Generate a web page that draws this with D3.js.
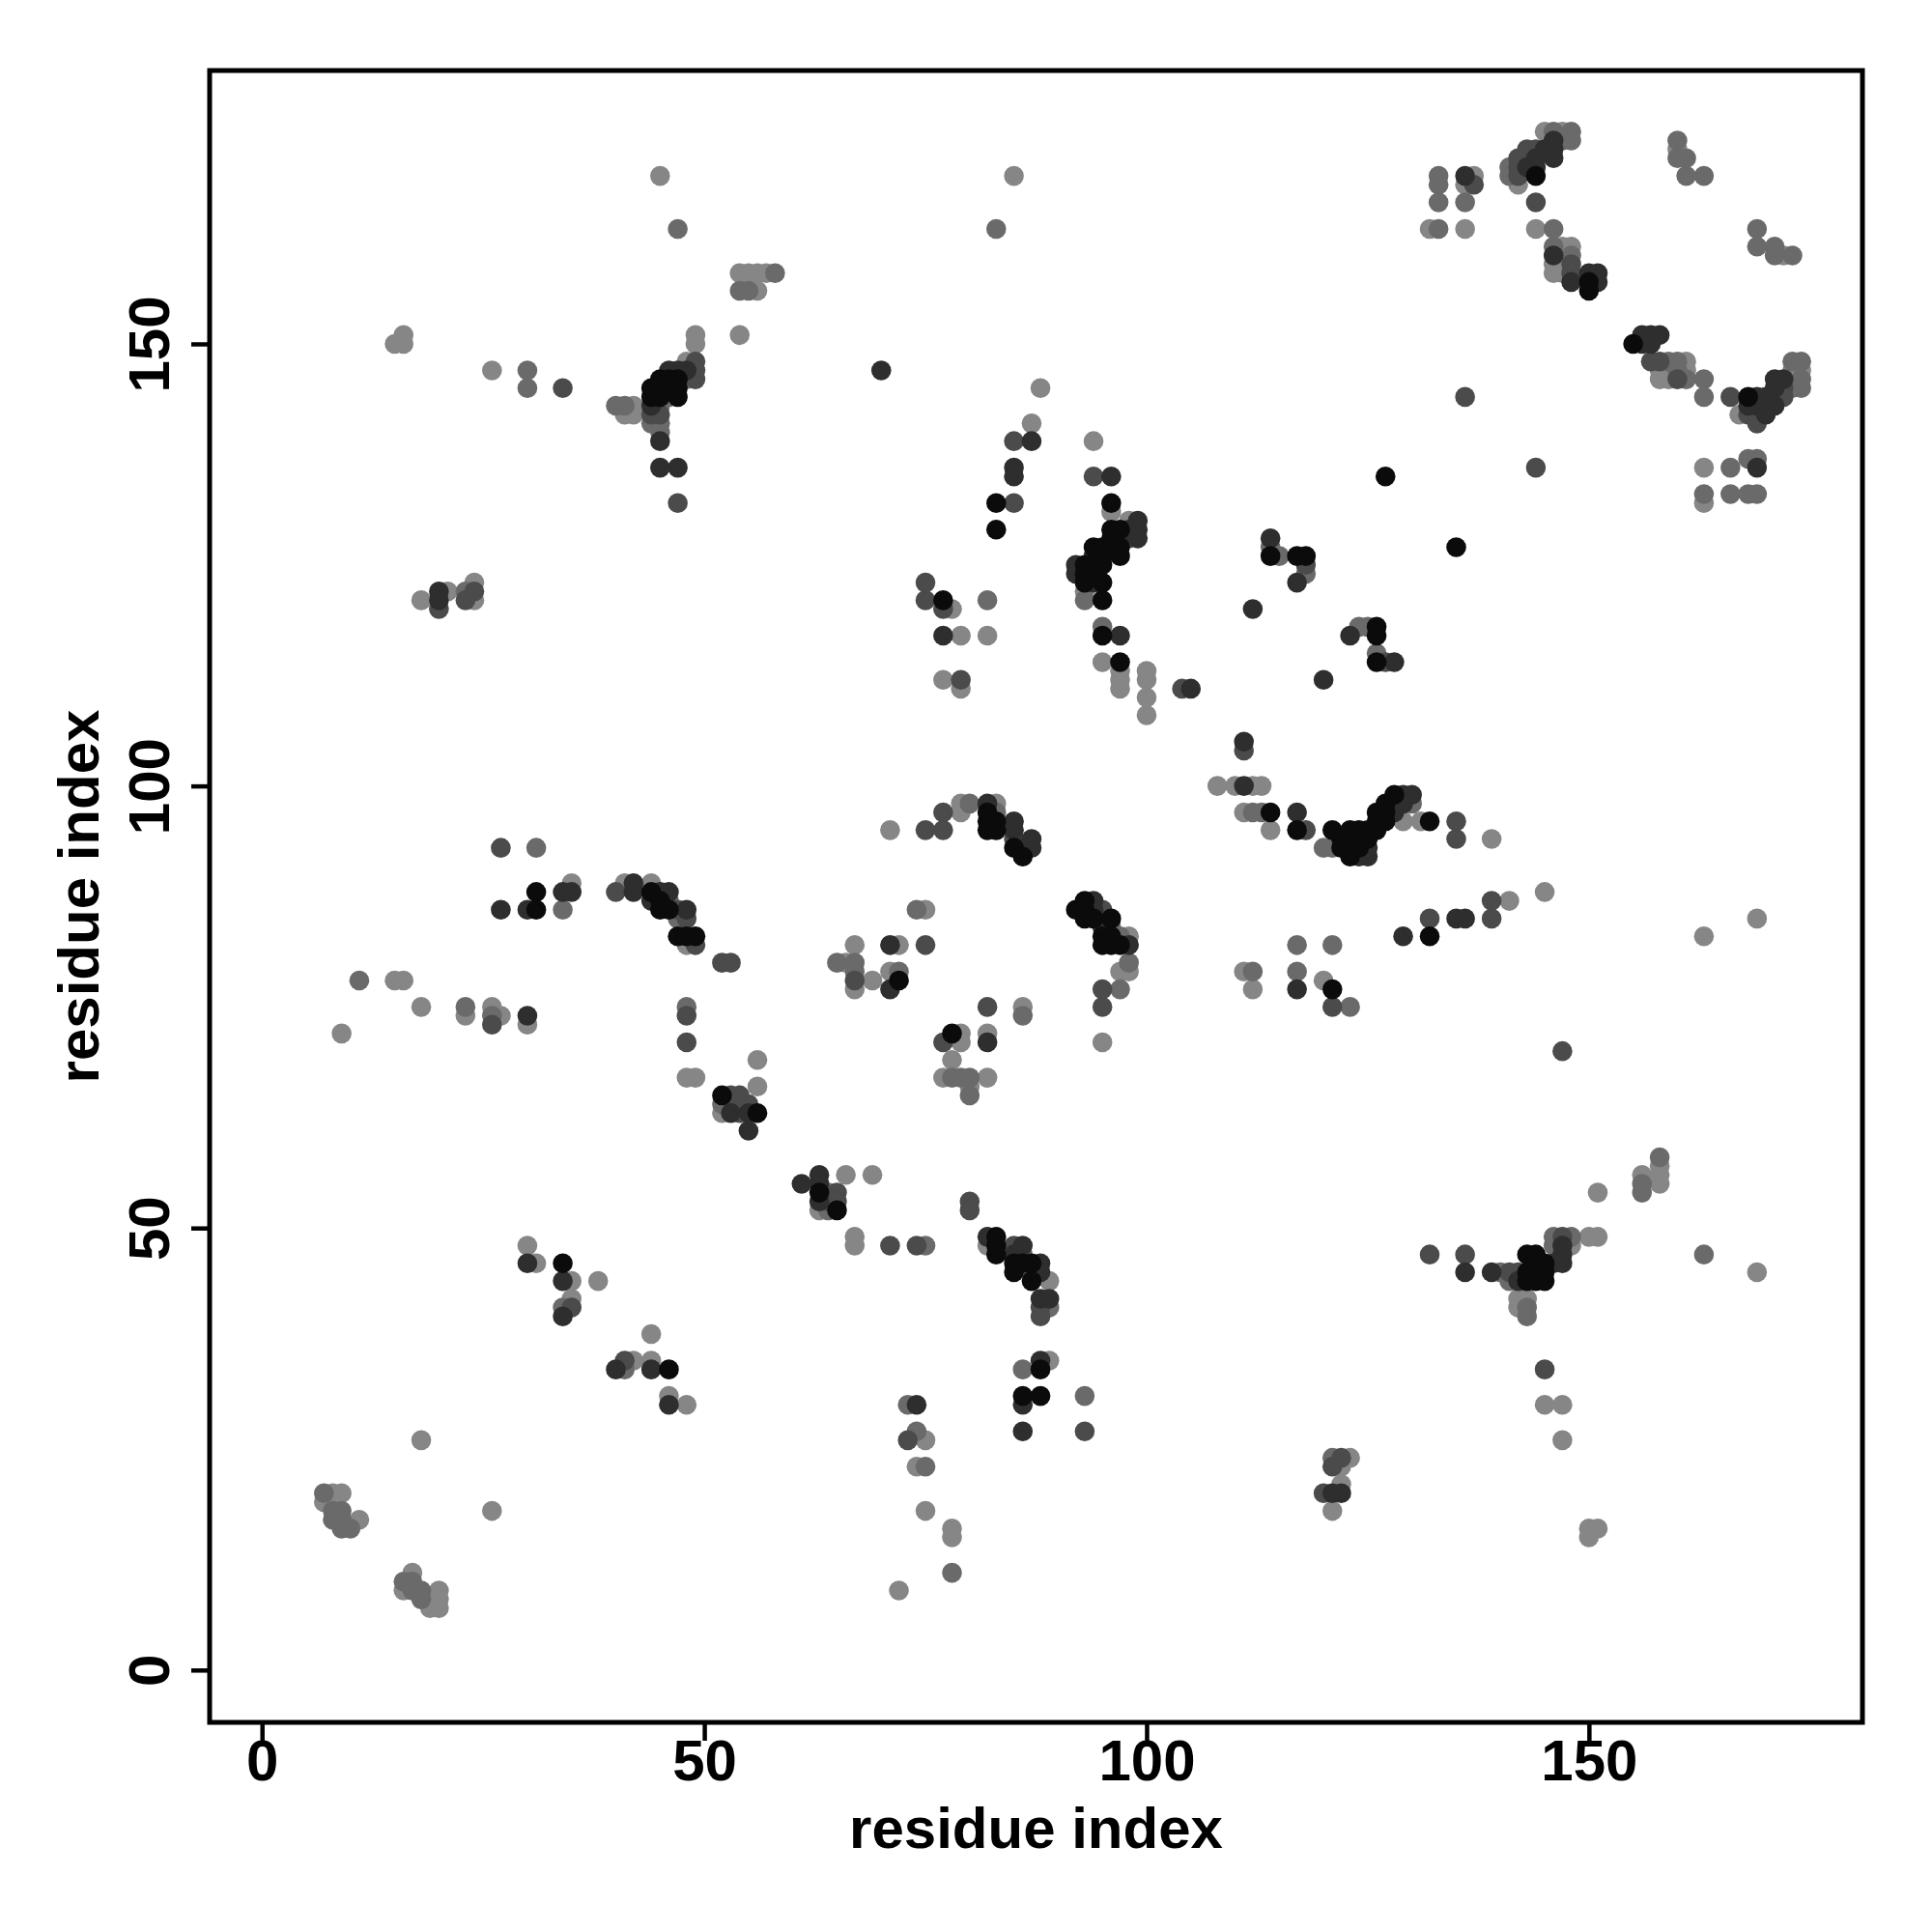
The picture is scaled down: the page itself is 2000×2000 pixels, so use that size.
<!DOCTYPE html>
<html><head><meta charset="utf-8">
<script src="https://cdn.jsdelivr.net/npm/d3@7"></script>
<style>body{margin:0;background:#fff}</style>
</head><body>
<svg id="chart" width="2000" height="2000"></svg>
<script>
// contact pairs [residue i, residue j] grouped by shade (light -> black)
const lightPairs = [[30,48],[31,46],[35,44],[38,44],[35,42],[44,38],[42,35],[44,35],[46,31],[48,30],[18,26],[26,18],[8,20],[9,20],[7,19],[8,19],[11,17],[17,11],[16,9],[19,8],[20,9],[20,8],[19,7],[20,7],
[66,56],[69,56],[63,52],[67,49],[67,48],[82,48],[89,44],[89,35],[75,26],[74,23],[75,18],[78,16],[78,15],[72,9],
[151,54],[156,56],[158,56],[158,55],[148,48],[150,49],[151,49],[142,42],[143,42],[142,41],[145,30],[147,30],[147,26],[169,45],[150,16],[151,16],[150,15],[123,24],[122,23],[122,21],[121,18],[158,57],
[35,89],[41,89],[44,89],[48,82],[48,67],[49,67],[56,69],[56,66],[52,63],[15,78],[16,78],[18,75],[9,72],[23,74],[26,75],[27,74],[30,73],
[79,117],[82,117],[77,112],[79,111],[95,114],[97,113],[97,112],[97,111],[100,113],[100,112],[100,110],[100,108],[108,100],[110,100],[112,100],[113,100],[111,97],[114,95],[71,95],[79,98],[79,97],[83,98],[75,86],[67,82],[72,82],[66,80],[67,77],[69,78],[71,79],[86,75],[79,72],[79,71],[82,72],[78,69],[77,67],[80,66],[82,67],[95,71],[98,79],[97,79],[98,83],[111,79],[112,77],[120,78],
[131,96],[129,96],[139,94],[141,87],[145,88],[163,83],[169,85],
[85,169],[88,145],[87,141],[94,139],[78,120],[93,122],[96,131],[98,130],
[45,169],[54,158],[55,158],[56,158],[57,158],[56,156],[54,151],[15,150],[16,151],[16,150],[26,147],[42,143],[41,142],[42,142],[48,148],[49,151],[49,150],[18,121],[21,122],[24,123],[24,121],
[132,163],[137,169],[136,168],[136,163],[145,174],[147,174],[142,168],[144,163],[147,161],[148,161],[147,160],[146,159],[147,159],[146,158],[147,158],[160,172],[172,160],[161,148],[158,147],[159,147],[161,147],[158,146],[159,146],[173,147],[174,147],[167,142],[163,136],[163,132]];

const grayPairs = [[34,41],[41,34],[7,20],[9,18],[8,18],[8,17],[9,17],[9,16],[10,16],[16,10],[17,10],[17,9],[18,9],[18,8],
[64,54],[64,52],[75,48],[86,47],[87,45],[89,41],[86,34],[93,31],[73,30],[74,27],[75,23],[78,11],
[156,55],[156,54],[140,45],[141,44],[146,49],[146,48],[148,49],[143,41],[143,40],[163,47],[121,24],[158,58],
[31,93],[34,86],[46,87],[47,85],[48,75],[52,64],[11,78],[23,75],[26,74],
[95,118],[112,97],[113,97],[80,98],[83,97],[74,86],[65,80],[67,80],[67,79],[72,79],[86,74],[78,67],[79,67],[80,67],[80,65],[97,77],[98,80],[97,83],[96,84],[117,82],[117,79],[112,79],[124,118],[125,118],[126,115],
[120,93],[121,93],[130,98],[121,82],[123,75],
[83,163],[114,127],[115,126],[118,124],[82,121],[93,121],
[47,163],[58,158],[54,156],[55,156],[30,147],[30,145],[40,143],[41,143],[45,143],[44,141],[45,141],[45,140],[46,144],[48,146],[23,122],
[133,169],[133,168],[133,166],[133,163],[136,166],[146,174],[148,174],[148,173],[147,173],[141,170],[141,169],[146,163],[146,161],[148,160],[160,173],[161,171],[160,171],[161,169],[163,169],[169,163],[169,161],[171,161],[171,160],[173,160],[159,148],[160,148],[160,147],[161,146],[163,146],[163,144],[173,148],[174,148],[174,146],[174,145],[173,145],[166,136],[168,137],[169,137],[163,133],[166,133],[168,133],[169,133]];

const midPairs = [[35,41],[41,35],
[64,53],[65,54],[65,53],[71,48],[74,48],[80,53],[80,52],[85,48],[88,41],[88,40],[93,27],[73,26],[120,20],
[132,47],[136,47],[141,45],[142,45],[147,49],[145,34],[122,24],[121,23],
[27,93],[40,88],[47,86],[48,85],[49,82],[52,80],[53,80],[48,74],[48,71],[53,65],[54,65],[54,63],[55,64],[26,73],
[79,112],[104,111],[111,104],[118,95],[75,95],[77,95],[77,97],[85,94],[75,82],[67,78],[82,75],[77,71],[95,77],[95,75],[95,86],
[127,114],[135,96],[135,94],[139,87],[132,85],[139,85],[147,70],[121,75],
[85,139],[94,135],[85,132],[118,125],[75,123],[75,121],[77,120],
[34,145],[44,142],[45,142],[49,148],[49,147],[49,146],[47,132],[20,120],[23,121],[24,122],
[137,168],[144,166],[143,172],[144,172],[142,171],[143,171],[142,170],[142,169],[148,159],[148,158],[136,144],[144,136],[157,148],[158,148],[160,146],[166,144],[172,145],[171,144],[172,144],[168,142],[169,142],[169,141],
[98,128]];

const darkPairs = [[30,46],[34,44],[34,40],[40,34],[44,34],[46,30],
[61,55],[63,56],[63,55],[63,53],[82,49],[86,48],[85,47],[88,46],[88,45],[88,42],[89,42],[88,35],[86,30],[86,27],[74,30],
[136,45],[139,45],[142,44],[146,46],[147,48],[147,47],[147,46],[121,20],[122,20],
[34,88],[35,88],[27,86],[30,86],[42,89],[42,88],[44,87],[45,88],[46,88],[48,86],[53,63],[55,63],[55,61],[30,74],
[77,117],[97,117],[105,111],[111,105],[111,100],[117,97],[120,112],[82,98],[85,96],[85,95],[86,93],[87,94],[87,93],[71,82],[71,77],[82,71],[94,87],[94,86],[95,84],[98,82],[117,77],
[123,117],[128,114],[124,92],[125,92],[125,93],[128,97],[128,98],[129,99],[130,99],[129,98],[135,85],[136,85],[129,83],
[70,147],[87,139],[85,136],[85,135],[96,135],[114,128],[117,123],[112,120],
[99,130],[99,129],[99,128],[97,128],[98,129],[94,126],[92,125],[92,124],[94,123],
[44,143],[45,139],[46,147],[47,147],[48,147],[45,136],[47,136],[20,122],[20,121],
[136,169],[146,173],[145,172],[146,172],[144,171],[146,171],[143,170],[144,170],[146,160],[148,157],[150,158],[151,158],[151,157],[156,151],[157,151],[158,151],[156,150],[157,150],[171,146],[172,146],[171,145],[169,144],[170,144],[168,143],[169,143],[170,143],[171,143],[170,142],[169,136]];

const blackPairs = [[34,46],[46,34],
[63,54],[65,52],[83,49],[83,48],[83,47],[85,46],[86,46],[85,45],[87,46],[87,44],[88,34],[86,31],[88,31],
[143,47],[143,45],[143,44],[144,47],[144,46],[144,44],[145,44],[145,45],[145,46],
[31,88],[31,86],[44,88],[45,87],[45,86],[46,86],[47,83],[48,83],[49,83],[52,65],[56,63],
[95,117],[97,114],[114,97],[117,95],[82,97],[82,96],[82,95],[83,96],[83,95],[85,93],[86,92],[72,78],[78,72],[92,86],[93,87],[93,86],[93,85],[94,85],[96,85],[95,83],[96,83],[95,82],[96,82],[97,82],
[126,118],[126,117],[126,114],[121,95],[123,95],[122,94],[123,94],[123,93],[122,93],[123,92],[124,93],[124,94],[125,94],[124,95],[125,95],[126,95],[126,96],[126,97],[127,97],[127,96],[127,98],[128,99],[132,96],[132,83],[121,77],
[83,132],[83,129],[114,126],[117,126],[118,126],[77,121],[95,121],
[96,132],[96,129],[97,129],[96,128],[96,127],[97,127],[97,126],[94,127],[95,127],[95,126],[95,125],[93,125],[93,124],[94,125],[94,124],[93,123],[95,123],
[44,145],[45,145],[44,144],[45,144],[45,146],[46,146],[47,146],[46,145],[47,145],[47,144],
[144,169],[150,157],[150,156],[155,150],[168,144],[127,135],[135,127]];

const shadeColors = ["#868686", "#6a6a6a", "#4b4b4b", "#2e2e2e", "#0b0b0b"];
const tickValues = [0, 50, 100, 150];
const xTitle = "residue index";
const yTitle = "residue index";
const axisMin = 1, axisMax = 174;

const groups = [lightPairs, grayPairs, midPairs, darkPairs, blackPairs];
const points = [];
groups.forEach((g, k) => g.forEach(p => points.push({i: p[0], j: p[1], level: k})));

const pad = 0.04 * (axisMax - axisMin);
const L = 217, R = 1928, T = 73, B = 1783;
const x = d3.scaleLinear().domain([axisMin - pad, axisMax + pad]).range([L, R]);
const y = d3.scaleLinear().domain([axisMin - pad, axisMax + pad]).range([B, T]);
const color = d3.scaleOrdinal().domain([0,1,2,3,4]).range(shadeColors);

const svg = d3.select("#chart");
const font = "'Liberation Sans', Arial, Helvetica, sans-serif";

svg.append("g").selectAll("circle").data(points).join("circle")
  .attr("cx", d => x(d.i)).attr("cy", d => y(d.j)).attr("r", 10.3)
  .attr("fill", d => color(d.level));

// box
svg.append("rect").attr("x", L).attr("y", T).attr("width", R - L).attr("height", B - T)
  .attr("fill", "none").attr("stroke", "#000").attr("stroke-width", 5);

const xAxis = svg.append("g").attr("transform", `translate(0,${B})`)
  .call(d3.axisBottom(x).tickValues(tickValues).tickSize(19).tickSizeOuter(0));
xAxis.select(".domain").remove();
xAxis.selectAll(".tick line").attr("stroke-width", 4.5);
xAxis.selectAll(".tick text").attr("y", 60).attr("dy", null)
  .attr("font-family", font).attr("font-weight", "bold").attr("font-size", 60).attr("fill", "#000");

const yAxis = svg.append("g").attr("transform", `translate(${L},0)`)
  .call(d3.axisLeft(y).tickValues(tickValues).tickSize(19).tickSizeOuter(0));
yAxis.select(".domain").remove();
yAxis.selectAll(".tick line").attr("stroke-width", 4.5);
yAxis.selectAll(".tick text").attr("x", null).attr("dy", null)
  .attr("transform", "translate(-42,0) rotate(-90)").attr("text-anchor", "middle")
  .attr("font-family", font).attr("font-weight", "bold").attr("font-size", 60).attr("fill", "#000");

svg.append("text").attr("x", (L + R) / 2).attr("y", 1913).attr("text-anchor", "middle")
  .attr("font-family", font).attr("font-weight", "bold").attr("font-size", 60).text(xTitle);
svg.append("text").attr("transform", `translate(102,${(T + B) / 2}) rotate(-90)`).attr("text-anchor", "middle")
  .attr("font-family", font).attr("font-weight", "bold").attr("font-size", 60).text(yTitle);
</script>
</body></html>
